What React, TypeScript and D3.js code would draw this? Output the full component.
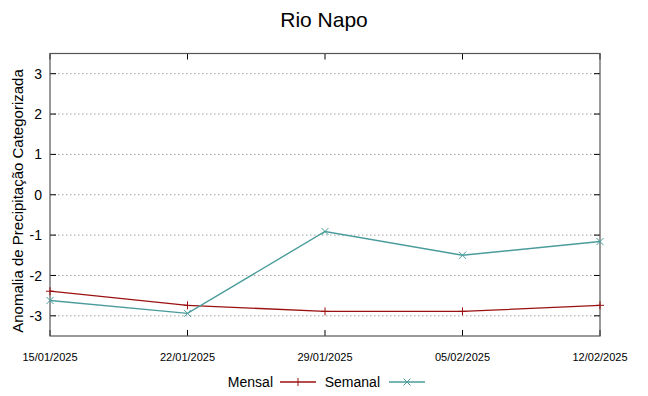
import * as d3 from 'd3'

const dates = ['15/01/2025', '22/01/2025', '29/01/2025', '05/02/2025', '12/02/2025']
const mensal = [-2.39, -2.74, -2.89, -2.89, -2.74]
const semanal = [-2.62, -2.94, -0.91, -1.5, -1.16]
const yTicks = [-3, -2, -1, 0, 1, 2, 3]

const W = 648
const H = 396
const font = '"Liberation Sans", Arial, sans-serif'

export default function App() {
  const x = d3.scalePoint<string>().domain(dates).range([50, 600])
  const y = d3.scaleLinear().domain([-3.5, 3.5]).range([336, 53.5])
  const line = d3
    .line<number>()
    .x((_, i) => x(dates[i])!)
    .y((d) => y(d))

  const red = '#9b1010'
  const teal = '#4a9c9c'

  return (
    <svg
      width={W}
      height={H}
      style={{ position: 'absolute', left: 0, top: 0, background: '#fff' }}
      fontFamily={font}
    >
      <text x={324} y={27} textAnchor="middle" fontSize={21} fill="#000">
        Rio Napo
      </text>

      {yTicks.map((t) => (
        <g key={t}>
          <line x1={50} x2={600} y1={y(t)} y2={y(t)} stroke="#a0a0a0" strokeDasharray="1.5,2.5" />
          <line x1={50} x2={56} y1={y(t)} y2={y(t)} stroke="#000" />
          <line x1={594} x2={600} y1={y(t)} y2={y(t)} stroke="#000" />
          <text x={42} y={y(t)} dy="0.36em" textAnchor="end" fontSize={14} fill="#000">
            {t}
          </text>
        </g>
      ))}

      {dates.map((d) => (
        <g key={d}>
          <line x1={x(d)} x2={x(d)} y1={336} y2={330} stroke="#000" />
          <line x1={x(d)} x2={x(d)} y1={53.5} y2={59.5} stroke="#000" />
          <text x={x(d)} y={361} textAnchor="middle" fontSize={11} fill="#000">
            {d}
          </text>
        </g>
      ))}

      <rect x={50} y={53.5} width={550} height={282.5} fill="none" stroke="#555" strokeWidth={1.2} />

      <text
        transform={`translate(23,201) rotate(-90)`}
        textAnchor="middle"
        fontSize={15}
        fill="#000"
      >
        Anomalia de Precipitação Categorizada
      </text>

      <path d={line(mensal) ?? ''} fill="none" stroke={red} strokeWidth={1.3} />
      {mensal.map((v, i) => (
        <path
          key={i}
          d={`M${x(dates[i])! - 4},${y(v)}h8M${x(dates[i])!},${y(v) - 4}v8`}
          stroke={red}
          strokeWidth={1}
        />
      ))}

      <path d={line(semanal) ?? ''} fill="none" stroke={teal} strokeWidth={1.4} />
      {semanal.map((v, i) => (
        <path
          key={i}
          d={`M${x(dates[i])! - 3.5},${y(v) - 3.5}l7,7M${x(dates[i])! - 3.5},${y(v) + 3.5}l7,-7`}
          stroke={teal}
          strokeWidth={1}
        />
      ))}

      <g fontSize={14} fill="#000">
        <text x={273} y={387} textAnchor="end">
          Mensal
        </text>
        <line x1={280} x2={316} y1={382} y2={382} stroke={red} strokeWidth={1.3} />
        <path d="M298,378v8" stroke={red} />
        <text x={380} y={387} textAnchor="end">
          Semanal
        </text>
        <line x1={389} x2={425} y1={382} y2={382} stroke={teal} strokeWidth={1.3} />
        <path d="M403.5,378.5l7,7M403.5,385.5l7,-7" stroke={teal} />
      </g>
    </svg>
  )
}
